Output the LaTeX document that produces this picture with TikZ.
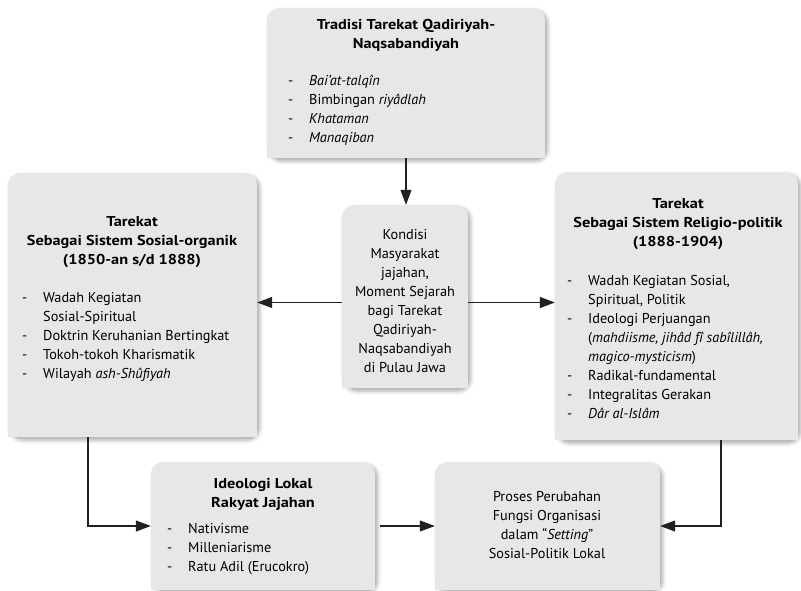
\documentclass[tikz,border=0pt]{standalone}
\usepackage{fontspec}
\setmainfont{PT Sans}[BoldFont={* Bold}, BoldFeatures={FakeStretch=1.14},
    ItalicFont={* Italic}, BoldItalicFont={* Bold Italic}]
\usetikzlibrary{arrows.meta,shadows.blur}

\definecolor{boxgray}{HTML}{E6E7E8}
\definecolor{ink}{HTML}{231F20}

\newcommand{\boxfont}{\fontsize{14.3}{19}\selectfont}
\newcommand{\itm}[1]{\makebox[21pt][l]{-}#1}
\newcommand{\cnt}[1]{\hspace*{21pt}#1}

\tikzset{
  box/.style={fill=boxgray, rounded corners=12pt, inner sep=0pt,
    blur shadow={shadow xshift=2.5pt, shadow yshift=-3pt,
      shadow blur radius=4pt, shadow opacity=35}},
  head/.style={font=\boxfont\bfseries, align=center, anchor=base, inner sep=0pt},
  body/.style={font=\boxfont, align=center, anchor=base, inner sep=0pt},
  list/.style={font=\boxfont, align=left, anchor=base west, inner sep=0pt},
  link/.style={draw=ink, line width=1.1pt, -{Triangle[length=15pt,width=11pt]}}
}

\begin{document}
\begin{tikzpicture}[x=1pt,y=-1pt]
    \useasboundingbox (0,0) rectangle (801,590);

    % The boxes
    \node[box, minimum width=278pt, minimum height=150pt] (tradisi) at (406,83) {};
    \node[box, minimum width=249pt, minimum height=264pt] (sosial) at (132.5,305) {};
    \node[box, minimum width=126pt, minimum height=183pt] (kondisi) at (405,296.5) {};
    \node[box, minimum width=243pt, minimum height=268pt] (religio) at (676.5,306) {};
    \node[box, minimum width=224pt, minimum height=128pt] (ideologi) at (263,526) {};
    \node[box, minimum width=225pt, minimum height=128pt] (proses) at (547.5,526) {};

    % Only the top corners are round
    \foreach \b in {tradisi,sosial,kondisi,religio,ideologi,proses}
        \fill[boxgray] (\b.south west) rectangle (\b.east);

    % Tradisi (texts sit on the baseline of their last line)
    \node[head] (tradisihead) at (406,48) {Tradisi Tarekat Qadiriyah-\\Naqsabandiyah};
    \node[list] (tradisilist) at (288,142) {\itm{\textit{Bai’at-talqîn}}\\
        \itm{Bimbingan \textit{riyâdlah}}\\ \itm{\textit{Khataman}}\\ \itm{\textit{Manaqiban}}};

    % Sosial-organik
    \node[head] (sosialhead) at (132,264) {Tarekat\\Sebagai Sistem Sosial-organik\\(1850-an s/d 1888)};
    \node[list] (sosiallist) at (22,378) {\itm{Wadah Kegiatan}\\ \cnt{Sosial-Spiritual}\\
        \itm{Doktrin Keruhanian Bertingkat}\\ \itm{Tokoh-tokoh Kharismatik}\\
        \itm{Wilayah \textit{ash-Shûfiyah}}};

    % Kondisi
    \node[body] (kondisitext) at (405,372) {Kondisi\\Masyarakat\\jajahan,\\Moment Sejarah\\
        bagi Tarekat\\Qadiriyah-\\Naqsabandiyah\\di Pulau Jawa};

    % Religio-politik
    \node[head] (religiohead) at (678,246) {Tarekat\\Sebagai Sistem Religio-politik\\(1888-1904)};
    \node[list] (religiolist) at (567,418) {\itm{Wadah Kegiatan Sosial,}\\ \cnt{Spiritual, Politik}\\
        \itm{Ideologi Perjuangan}\\ \cnt{(\textit{mahdiisme, jihâd fî sabîlillâh,}}\\
        \cnt{\textit{magico-mysticism})}\\ \itm{Radikal-fundamental}\\
        \itm{Integralitas Gerakan}\\ \itm{\textit{Dâr al-Islâm}}};

    % Ideologi lokal
    \node[head] (ideologihead) at (263,507) {Ideologi Lokal\\Rakyat Jajahan};
    \node[list] (ideologilist) at (167,571) {\itm{Nativisme}\\ \itm{Milleniarisme}\\
        \itm{Ratu Adil (Erucokro)}};

    % Proses
    \node[body] (prosestext) at (547,558) {Proses Perubahan\\Fungsi Organisasi\\
        dalam “\textit{Setting}”\\Sosial-Politik Lokal};

    % Arrows
    \draw[link] (tradisi.south) -- (tradisi.south |- kondisi.north);
    \draw[link] ([yshift=-6pt]kondisi.west) -- ([yshift=-6pt]kondisi.west -| sosial.east);
    \draw[link] ([yshift=-6pt]kondisi.east) -- ([yshift=-6pt]kondisi.east -| religio.west);
    \draw[link] ([xshift=-44.5pt]sosial.south) |- (ideologi.west);
    \draw[link, shorten <=5pt] (ideologi.east) -- (proses.west);
    \draw[link] ([xshift=44.5pt]religio.south) |- (proses.east);
\end{tikzpicture}
\end{document}
